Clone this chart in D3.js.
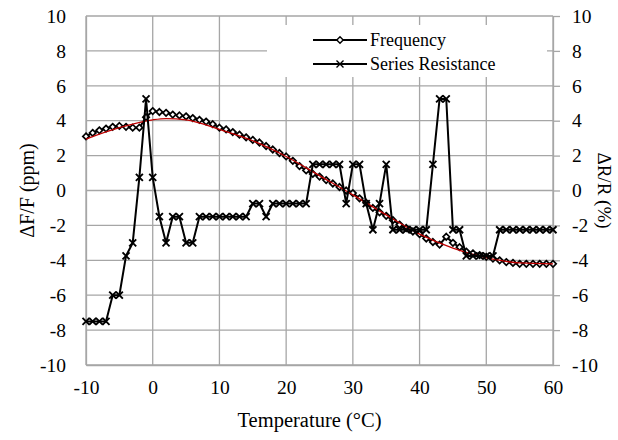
<!DOCTYPE html>
<html>
<head>
<meta charset="utf-8">
<script src="https://cdn.jsdelivr.net/npm/d3@7"></script>
<style>
  body { margin: 0; background: #fff; }
  text { font-family: "Liberation Serif", "Times New Roman", serif; fill: #000; }
</style>
</head>
<body>
<div id="chart"></div>
<script>
// Temperatures (°C), one reading per degree
var temps = [-10, -9, -8, -7, -6, -5, -4, -3, -2, -1,
    0, 1, 2, 3, 4, 5, 6, 7, 8, 9,
    10, 11, 12, 13, 14, 15, 16, 17, 18, 19,
    20, 21, 22, 23, 24, 25, 26, 27, 28, 29,
    30, 31, 32, 33, 34, 35, 36, 37, 38, 39,
    40, 41, 42, 43, 44, 45, 46, 47, 48, 49,
    50, 51, 52, 53, 54, 55, 56, 57, 58, 59, 60];

// Frequency deviation dF/F (ppm)
var frequency = [3.1, 3.3, 3.45, 3.55, 3.65, 3.7, 3.65, 3.6, 3.6, 4.2,
    4.55, 4.5, 4.45, 4.35, 4.3, 4.25, 4.15, 4.05, 3.95, 3.8,
    3.6, 3.5, 3.35, 3.2, 3.05, 2.9, 2.75, 2.55, 2.35, 2.15,
    1.95, 1.7, 1.4, 1.15, 0.95, 0.8, 0.6, 0.4, 0.2, 0.0,
    -0.15, -0.45, -0.7, -1.0, -1.25, -1.45, -1.7, -1.95, -2.15, -2.35,
    -2.5, -2.75, -2.95, -3.1, -2.65, -3.0, -3.25, -3.5, -3.6, -3.7,
    -3.8, -3.9, -4.0, -4.1, -4.15, -4.2, -4.2, -4.2, -4.2, -4.2, -4.2];

// Series resistance deviation dR/R (%)
var resistance = [-7.5, -7.5, -7.5, -7.5, -6, -6, -3.75, -3, 0.75, 5.25,
    0.75, -1.5, -3, -1.5, -1.5, -3, -3, -1.5, -1.5, -1.5,
    -1.5, -1.5, -1.5, -1.5, -1.5, -0.75, -0.75, -1.5, -0.75, -0.75,
    -0.75, -0.75, -0.75, -0.75, 1.5, 1.5, 1.5, 1.5, 1.5, -0.75,
    1.5, 1.5, -0.75, -2.25, -0.75, 1.5, -2.25, -2.25, -2.25, -2.25,
    -2.25, -2.25, 1.5, 5.25, 5.25, -2.25, -2.25, -3.75, -3.75, -3.75,
    -3.75, -3.75, -2.25, -2.25, -2.25, -2.25, -2.25, -2.25, -2.25, -2.25, -2.25];

// Trend line of frequency (red)
var trendTemps = [-10, -5, 0, 2, 5, 10, 15, 20, 25, 30, 35, 40, 45, 50, 55, 60];
var trendValues = [2.95, 3.6, 4.05, 4.12, 4.05, 3.5, 2.85, 1.95, 0.85, -0.25, -1.4, -2.5, -3.3, -3.85, -4.15, -4.2];

var xTicks = [-10, 0, 10, 20, 30, 40, 50, 60];
var yTicks = [-10, -8, -6, -4, -2, 0, 2, 4, 6, 8, 10];
var seriesNames = ["Frequency", "Series Resistance"];

var svgWidth = 618;
var svgHeight = 440;
var margin = { top: 16, right: 65, bottom: 75, left: 86 };
var chartWidth = svgWidth - margin.left - margin.right;
var chartHeight = svgHeight - margin.top - margin.bottom;

var svg = d3.select("#chart")
    .append("svg")
    .attr("width", svgWidth)
    .attr("height", svgHeight);

var chartGroup = svg.append("g")
    .attr("transform", `translate(${margin.left}, ${margin.top})`);

var xScale = d3.scaleLinear().domain([-10, 60]).range([0, chartWidth]);
var yScale = d3.scaleLinear().domain([-10, 10]).range([chartHeight, 0]);
var y2Scale = d3.scaleLinear().domain([-10, 10]).range([chartHeight, 0]);

var gridColor = "#a6a6a6";
// plain hyphen for negatives, like the original
var plainFormat = d => String(d);

// gridlines
chartGroup.append("g")
    .selectAll("line").data(yTicks).enter()
    .append("line")
    .attr("x1", 0).attr("x2", chartWidth)
    .attr("y1", d => yScale(d)).attr("y2", d => yScale(d))
    .attr("stroke", gridColor).attr("stroke-width", 1.3);

chartGroup.append("g")
    .selectAll("line").data(xTicks).enter()
    .append("line")
    .attr("x1", d => xScale(d)).attr("x2", d => xScale(d))
    .attr("y1", 0).attr("y2", chartHeight)
    .attr("stroke", gridColor).attr("stroke-width", 1.3);

// axes
var leftAxis = chartGroup.append("g")
    .call(d3.axisLeft(yScale).tickValues(yTicks).tickFormat(plainFormat).tickSize(0).tickPadding(20));
var rightAxis = chartGroup.append("g")
    .attr("transform", `translate(${chartWidth}, 0)`)
    .call(d3.axisRight(y2Scale).tickValues(yTicks).tickFormat(plainFormat).tickSizeInner(7).tickSizeOuter(0).tickPadding(12));
var bottomAxis = chartGroup.append("g")
    .attr("transform", `translate(0, ${chartHeight})`)
    .call(d3.axisBottom(xScale).tickValues(xTicks).tickFormat(plainFormat).tickSize(0).tickPadding(15));

[leftAxis, rightAxis, bottomAxis].forEach(function (ax) {
    ax.select(".domain").attr("stroke", gridColor).attr("stroke-width", 1.3);
    ax.selectAll(".tick line").attr("stroke", gridColor).attr("stroke-width", 1.3);
    ax.selectAll("text")
        .style("font-family", "'Liberation Serif', serif")
        .style("font-size", "19.5px")
        .attr("fill", "#000");
});

// legend box (covers gridlines)
var legendGroup = chartGroup.append("g");
legendGroup.append("rect")
    .attr("x", 181).attr("y", 9)
    .attr("width", 280).attr("height", 52)
    .attr("fill", "#fff");

var diamondPath = "M0,-3.2L3.2,0L0,3.2L-3.2,0Z";
var crossPath = "M-3.5,-3.5L3.5,3.5M-3.5,3.5L3.5,-3.5";

var freqData = temps.map((t, i) => ({ t: t, v: frequency[i] }));
var resData = temps.map((t, i) => ({ t: t, v: resistance[i] }));
var trendData = trendTemps.map((t, i) => ({ t: t, v: trendValues[i] }));

var freqLine = d3.line().x(d => xScale(d.t)).y(d => yScale(d.v));
var resLine = d3.line().x(d => xScale(d.t)).y(d => y2Scale(d.v));
var trendLine = d3.line().x(d => xScale(d.t)).y(d => yScale(d.v)).curve(d3.curveMonotoneX);

// frequency series
chartGroup.append("path")
    .datum(freqData)
    .attr("d", freqLine)
    .attr("fill", "none").attr("stroke", "#000").attr("stroke-width", 2);

chartGroup.append("g")
    .selectAll("path").data(freqData).enter()
    .append("path")
    .attr("d", diamondPath)
    .attr("transform", d => `translate(${xScale(d.t)}, ${yScale(d.v)})`)
    .attr("fill", "#fff").attr("stroke", "#000").attr("stroke-width", 1.7);

chartGroup.append("path")
    .datum(trendData)
    .attr("d", trendLine)
    .attr("fill", "none").attr("stroke", "#c00000").attr("stroke-width", 1.3);

// series resistance
chartGroup.append("path")
    .datum(resData)
    .attr("d", resLine)
    .attr("fill", "none").attr("stroke", "#000").attr("stroke-width", 2);

chartGroup.append("g")
    .selectAll("path").data(resData).enter()
    .append("path")
    .attr("d", crossPath)
    .attr("transform", d => `translate(${xScale(d.t)}, ${y2Scale(d.v)})`)
    .attr("fill", "none").attr("stroke", "#000").attr("stroke-width", 1.9);

// legend entries
var legendItems = legendGroup.selectAll(".legend-item").data(seriesNames).enter()
    .append("g")
    .attr("class", "legend-item")
    .attr("transform", (d, i) => `translate(227, ${24 + i * 24})`);

legendItems.append("line")
    .attr("x1", 0).attr("x2", 54)
    .attr("stroke", "#000").attr("stroke-width", 2);

legendItems.append("path")
    .attr("transform", "translate(27, 0)")
    .attr("d", (d, i) => i === 0 ? diamondPath : crossPath)
    .attr("fill", (d, i) => i === 0 ? "#fff" : "none")
    .attr("stroke", "#000").attr("stroke-width", 1.4);

legendItems.append("text")
    .attr("x", 57).attr("y", 0)
    .attr("dy", "0.35em")
    .style("font-size", "18px")
    .text(d => d);

// axis titles
svg.append("text")
    .attr("transform", `translate(34, ${margin.top + chartHeight / 2}) rotate(-90)`)
    .attr("text-anchor", "middle")
    .style("font-size", "20px")
    .text("ΔF/F (ppm)");

svg.append("text")
    .attr("transform", `translate(598, ${margin.top + chartHeight / 2}) rotate(90)`)
    .attr("text-anchor", "middle")
    .style("font-size", "19px")
    .text("ΔR/R (%)");

svg.append("text")
    .attr("x", margin.left + chartWidth / 2 - 10)
    .attr("y", 427)
    .attr("text-anchor", "middle")
    .style("font-size", "20.5px")
    .text("Temperature (°C)");
</script>
</body>
</html>
